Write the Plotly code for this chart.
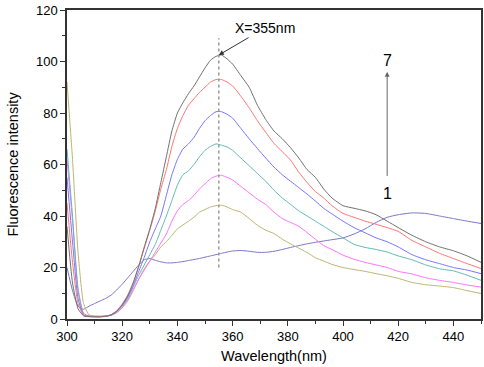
import plotly.graph_objects as go

wavelength = [300, 302, 304, 306, 308, 310, 312, 314, 316, 318, 320, 322, 324, 326, 328, 330,
              332, 334, 336, 338, 340, 342, 344, 346, 348, 350, 352, 354, 356, 358, 360,
              363, 366, 369, 372, 375, 378, 381, 384, 387, 390, 393, 396,
              400, 404, 408, 412, 416, 420, 425, 430, 435, 440, 445, 450]

curve7 = [36, 14, 4, 1.2, 0.9, 0.8, 0.8, 1.0, 1.6, 3, 5.5, 9, 14, 20.5, 28, 35,
          43, 53, 63, 73, 80, 84, 87.5, 90.5, 94, 97.5, 100.5, 102, 102.5, 101, 99,
          94.5, 90, 83, 77.5, 73, 70, 66.5, 62.5, 58, 55, 50.5, 47,
          44, 43, 42, 40.5, 38, 35.5, 32.5, 30, 28, 26.5, 24.5, 22]
curve6 = [45, 22, 6, 1.5, 1.0, 0.9, 0.9, 1.1, 1.7, 3.2, 5.8, 9.3, 14.2, 20.5, 27.5, 34.5,
          42, 50.5, 58, 67, 74, 79, 83, 85.5, 88, 90, 92, 93, 93, 92, 90.5,
          86.5, 82, 77, 72.5, 68.2, 65, 61.7, 57, 53, 49.5, 47, 44,
          41, 39.5, 38, 36.8, 35.5, 34, 30.5, 28, 25.5, 23.5, 21.5, 19.6]
curve5 = [55, 30, 8, 1.5, 1.0, 0.9, 0.9, 1.1, 1.6, 3, 5.3, 8.5, 13, 18.5, 24, 30,
          35, 40, 48, 56, 62, 66, 68, 70.5, 74, 77, 79, 80.5, 80.5, 79.5, 78,
          74, 70, 66.2, 62.5, 59, 56, 53.5, 51, 48.5, 45.8, 43, 40.8,
          38, 35.5, 33.5, 31.5, 30, 28, 25, 23, 21.5, 20, 19, 17.6]
curve4 = [66, 40, 11, 1.8, 1.1, 1.0, 1.0, 1.1, 1.5, 2.8, 5, 8, 12.5, 17, 21, 25,
          29, 34.5, 40, 46, 52, 56, 57.5, 60, 63, 65.5, 67, 68, 67.5, 66.8, 65.5,
          62.5, 59.5, 56.5, 53.5, 50, 47, 44.5, 42, 40, 38, 36, 34,
          31.5, 29, 27.8, 27, 26, 24.5, 23, 21, 19.5, 18.7, 17, 15]
curve3 = [62, 38, 12, 2.2, 1.2, 1.0, 1.0, 1.1, 1.4, 2.5, 4.5, 7.5, 11.5, 15.5, 19, 22.5,
          26, 29.5, 33, 38, 42, 44.5, 46, 48, 50.5, 52.5, 54.5, 55.5, 55.8, 55, 54,
          51.5, 49, 46.5, 44.5, 41.5, 39, 37.5, 36, 33.5, 31, 28.5, 27,
          24.8, 23.2, 22, 21, 20, 18.5, 17.5, 16, 15, 14.2, 13.2, 12.4]
curve2 = [92, 62, 26, 6, 1.6, 1.2, 1.1, 1.2, 1.5, 2.5, 4.3, 7, 11, 15.5, 19.5, 22.5,
          25, 28, 30, 32.5, 35, 36.5, 38, 39.5, 41.5, 42.5, 43.5, 44, 44.2, 43.5, 42.5,
          41.5, 39, 36.4, 34.5, 33.2, 31, 29.2, 27.5, 25.8, 23.8, 22.5, 21.2,
          20, 19.2, 18.5, 17.6, 16.8, 15.8, 14.2, 13.3, 12.8, 12.2, 11, 9.9]
curve1 = [20, 11, 5, 3.8, 5, 6, 7, 8, 9.3, 11.3, 13.5, 16, 18.5, 21, 23, 23.5,
          22.8, 22.2, 21.8, 21.8, 22, 22.3, 22.7, 23.1, 23.5, 24, 24.5, 25, 25.5, 26, 26.4,
          26.6, 26.3, 25.9, 25.9, 26.3, 27, 27.8, 28.5, 29.2, 29.8, 30.3, 30.8,
          31.5, 33, 35, 37.5, 39.5, 40.5, 41.2, 41, 40, 39, 38, 37.1]

series = [curve1, curve2, curve3, curve4, curve5, curve6, curve7]
colors = ["#7b76c4", "#bdb573", "#ff70ff", "#62b8b4", "#7474ff", "#ff7474", "#707070"]

peak_wl = 355
peak_label = "X=355nm"
marker_line_y = [20, 109]
arrow_x = 416
arrow_y = [55, 96]
label_top, label_bottom = "7", "1"
label_top_y, label_bottom_y = 100.5, 48.9

font_family = "Arial, Liberation Sans, sans-serif"

fig = go.Figure()
for ys, c in zip(series, colors):
    fig.add_trace(go.Scatter(x=wavelength, y=ys, mode="lines",
                             line=dict(color=c, width=1, shape="spline", smoothing=0.5),
                             showlegend=False, hoverinfo="skip"))

fig.add_shape(type="line", x0=peak_wl, x1=peak_wl, y0=marker_line_y[0], y1=marker_line_y[1],
              xref="x", yref="y", line=dict(color="#999999", width=1.5, dash="dot"))

fig.add_annotation(x=peak_wl, y=max(curve7), xref="x", yref="y", text=peak_label,
                   showarrow=True, arrowhead=2, arrowsize=1, arrowwidth=1, arrowcolor="#333",
                   ax=46, ay=-27, font=dict(family=font_family, size=14, color="black"))

fig.add_annotation(x=arrow_x, y=arrow_y[1], ax=arrow_x, ay=arrow_y[0], xref="x", yref="y",
                   axref="x", ayref="y", text="", showarrow=True, arrowhead=2, arrowsize=1,
                   arrowwidth=1, arrowcolor="#666")
fig.add_annotation(x=arrow_x, y=label_top_y, xref="x", yref="y", text=label_top,
                   showarrow=False, font=dict(family=font_family, size=16, color="black"))
fig.add_annotation(x=arrow_x, y=label_bottom_y, xref="x", yref="y", text=label_bottom,
                   showarrow=False, font=dict(family=font_family, size=16, color="black"))

axis_common = dict(showline=True, linecolor="#333", linewidth=1.5, mirror=True,
                   ticks="outside", ticklen=5, tickwidth=1.2, tickcolor="#333",
                   showgrid=False, zeroline=False, automargin=False,
                   tickfont=dict(family=font_family, size=13, color="black"))

fig.update_xaxes(range=[300, 450], dtick=20, tick0=300,
                 minor=dict(dtick=10, ticks="outside", ticklen=3, tickcolor="#333"),
                 title=dict(text="Wavelength(nm)", font=dict(family=font_family, size=14.5, color="black"),
                            standoff=8),
                 **axis_common)
fig.update_yaxes(range=[0, 120], dtick=20, tick0=0,
                 minor=dict(dtick=10, ticks="outside", ticklen=3, tickcolor="#333"),
                 title=dict(text="Fluorescence intensity", font=dict(family=font_family, size=14.5, color="black"),
                            standoff=14),
                 **axis_common)

fig.update_layout(width=484, height=367, margin=dict(l=67, r=3, t=10, b=48),
                  plot_bgcolor="white", paper_bgcolor="white",
                  font=dict(family=font_family))

fig.write_html("out.html", config={"displayModeBar": False},
               post_script="document.body.style.margin='0';")
